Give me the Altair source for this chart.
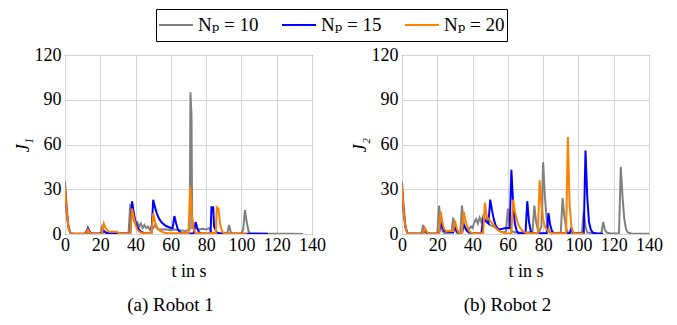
import altair as alt
import pandas as pd

SERIES = ["Nₚ = 10", "Nₚ = 15", "Nₚ = 20"]
COLORS = ["#808080", "#0000ff", "#ff8000"]
X_TICKS = [0, 20, 40, 60, 80, 100, 120, 140]
Y_TICKS = [0, 30, 60, 90, 120]

# Robot 1 (t in s, J)
R1_NP10 = [(0,35),(1,18),(2,5),(3,1),(4,0.3),(5,0),(11,0),(12,2),(13,0.5),(14,0),(20,0),(21,5),(22,2),(23,1),
           (25,0.5),(28,0.5),(30,0.3),(36,0.3),(37,20),(38,14),(39,9),(40,7),(41,8),(42,5),(43,7),(44,4),(45,6),
           (46,4),(47,5),(48,3),(49,5),(50,4),(51,6),(52,4),(53,3),(55,3),(58,3),(60,2.5),(62,3),(65,2.5),(68,2),
           (70,2.5),(70.7,3),(71.1,95),(71.7,80),(72.1,4),(74,4),(76,3),(78,3.5),(80,3),(82,4),(83,1),(85,0.5),
           (88,0.5),(92,0.5),(93,6),(94,1),(95,0.3),(100,0.3),(101,3),(102,16),(103,8),(104,2),(105,0.5),
           (110,0.3),(120,0.2),(130,0.2),(135,0)]
R1_NP15 = [(0,30),(1,14),(2,4),(3,1),(4,0.2),(12,0.2),(13,4),(14,1.5),(15,0.3),(21,0.3),(22,2),(23,1),(25,0.5),
           (30,0.3),(37,0.3),(38,22),(39,14),(40,8),(41,5),(42,3),(43,1.5),(45,0.5),(49,0.5),(50,23),(51,18),
           (52,14),(53,11),(54,9),(55,7.5),(56,6.5),(57,5.5),(58,5),(59,4.5),(60,4),(61,4),(62,12),(63,7),(64,3),
           (65,1.5),(66,0.5),(70,0.3),(73,0.5),(74,8),(75,4),(76,1),(78,0.3),(82.5,0.3),(83,18),(84,18),(84.5,5),
           (86,1),(88,0.3),(100,0.2),(115,0.2)]
R1_NP20 = [(0,31),(1,15),(2,4),(3,1),(4,0.2),(12,0.2),(13,3),(14,1),(15,0.2),(21,0.3),(22,7),(23,4),(24,2.5),
           (25,1.5),(27,1.5),(29,1.5),(30,1),(31,0.3),(37,0.3),(38,17),(39,11),(40,6),(41,3),(42,1.5),(44,0.5),
           (49,0.5),(50,14),(51,8),(52,5),(53,3),(54,2),(56,1),(58,0.5),(70,0.5),(71,32),(72,12),(73,3),(74,0.5),
           (85.5,0.5),(86,18),(87,17),(88,6),(89,2),(90,0.5),(103,0.3)]

# Robot 2 (t in s, J)
R2_NP10 = [(0,35),(1,18),(2,5),(3,1),(4,0.3),(11,0.3),(12,6),(13,2),(14,0.3),(20,0.3),(21,19),(22,6),(23,2),
           (24,0.5),(28,0.5),(29,11),(30,4),(31,1),(33,0.5),(34,19),(35,7),(36,3),(37,2),(38,3),(39,5),(40,4),
           (41,8),(42,10),(43,7),(44,11),(45,8),(46,12),(47,9),(48,11),(49,7),(50,6),(52,5),(54,3),(56,1.5),
           (58,1),(59,2),(60,17),(61,6),(62,2),(64,1),(68,1),(72,1),(74,2),(75,19),(76,8),(77,3),(78,2),(79,5),
           (80,48),(81,25),(82,10),(83,3),(84,1),(88,0.5),(90,1),(91,24),(92,12),(93,4),(94,1),(98,0.5),(102,1),
           (103,15),(104,5),(105,1),(108,0.5),(113,0.5),(114,8),(115,3),(116,1),(118,0.3),(123,0.3),(124,45),
           (125,25),(126,10),(127,3),(128,1),(130,0.3),(140,0.2)]
R2_NP15 = [(0,30),(1,14),(2,4),(3,1),(4,0.2),(12,0.2),(13,3),(14,1),(15,0.2),(21,0.3),(22,8),(23,4),(24,2),
           (26,1.5),(28,1.5),(29,1),(30,5),(31,2),(32,0.5),(34,0.5),(35,6),(36,4),(37,2),(38,1),(40,0.5),(45,0.5),
           (46,10),(47,9),(48,8),(49,7),(50,23),(51,16),(52,10),(53,6),(54,4),(55,3),(57,3.5),(59,4),(61,4),
           (62,43),(63,20),(64,7),(65,2),(66,0.5),(70,0.5),(71,22),(72,8),(73,2),(74,0.5),(82,0.5),(83,14),
           (84,6),(85,2),(86,0.5),(95,0.5),(96,4),(97,1),(98,0.3),(103,0.3),(104,56),(105,25),(106,8),(107,3),
           (108,1),(110,0.3),(114,0.2)]
R2_NP20 = [(0,32),(1,15),(2,4),(3,1),(4,0.2),(12,0.2),(13,4),(14,1.5),(15,0.2),(21,0.3),(22,15),(23,7),(24,3),
           (25,2),(27,2),(29,2),(30,9),(31,4),(32,1),(33,0.5),(34,0.5),(35,15),(36,9),(37,5),(38,2),(39,1),
           (40,0.5),(46,0.5),(47,21),(48,12),(49,10),(50,9),(51,7.5),(52,6),(53,4.5),(54,3),(56,1.5),(58,0.7),
           (60,0.3),(62,0.3),(63,23),(64,15),(65,10),(66,6),(67,4),(68,2.5),(69,1.5),(71,0.5),(77,0.5),(78,36),
           (79,20),(80,10),(81,5),(82,3),(83,1.5),(85,0.5),(93,0.5),(94,65),(95,20),(96,5),(97,1),(98,0.3),
           (103,0.3)]


def frame(series_lists):
    rows = []
    for name, pts in zip(SERIES, series_lists):
        for i, (t, j) in enumerate(pts):
            rows.append({"t": t, "J": j, "series": name, "order": i})
    return pd.DataFrame(rows)


FONT = "'Liberation Serif', 'DejaVu Serif', serif"


def panel(df, ytitle, caption, show_legend):
    color = alt.Color(
        "series:N",
        scale=alt.Scale(domain=SERIES, range=COLORS),
        title=None,
        legend=alt.Legend(
            orient="none", legendX=91, legendY=-46, direction="horizontal",
            symbolType="stroke", symbolSize=1156, symbolStrokeWidth=2,
            labelFont=FONT, labelFontSize=19, labelColor="black",
            strokeColor="black", padding=2, columnPadding=22, symbolOffset=0,
            labelOffset=4, clipHeight=28,
        ) if show_legend else None,
    )
    return alt.Chart(df).mark_line(strokeWidth=2, clip=True).encode(
        x=alt.X("t:Q", scale=alt.Scale(domain=[0, 140], nice=False),
                axis=alt.Axis(values=X_TICKS, title="t in s", labelOverlap=False,
                              labelFlush=False, labelFont=FONT, titleFont=FONT)),
        y=alt.Y("J:Q", scale=alt.Scale(domain=[0, 120], nice=False),
                axis=alt.Axis(values=Y_TICKS, title=ytitle, titleFontStyle="italic",
                              labelFont=FONT, titleFont=FONT)),
        color=color,
        order="order:Q",
    ).properties(
        width=247, height=179,
        title=alt.TitleParams(caption, orient="bottom", font=FONT, fontSize=19,
                              fontWeight="normal", color="black", offset=16, dx=-18),
    )


left = panel(frame([R1_NP10, R1_NP15, R1_NP20]), "J₁", "(a) Robot 1", True)
right = panel(frame([R2_NP10, R2_NP15, R2_NP20]), "J₂", "(b) Robot 2", False)

chart = alt.hconcat(left, right, spacing=24).resolve_scale(color="shared").properties(
    padding={"left": 5, "top": 0, "right": 5, "bottom": 0}
).configure_view(
    stroke="black", strokeWidth=1
).configure_axis(
    labelFont=FONT, labelFontSize=18, labelColor="black",
    titleFont=FONT, titleFontSize=18, titleColor="black", titleFontWeight="normal",
    grid=True, gridColor="#d4d4d4", gridWidth=1,
    domain=False, ticks=False, labelPadding=4,
).configure_axisY(
    titlePadding=2,
).configure_axisX(
    labelPadding=2, titlePadding=8,
)

chart.save("out.html", embed_options={"renderer": "svg", "actions": False})
